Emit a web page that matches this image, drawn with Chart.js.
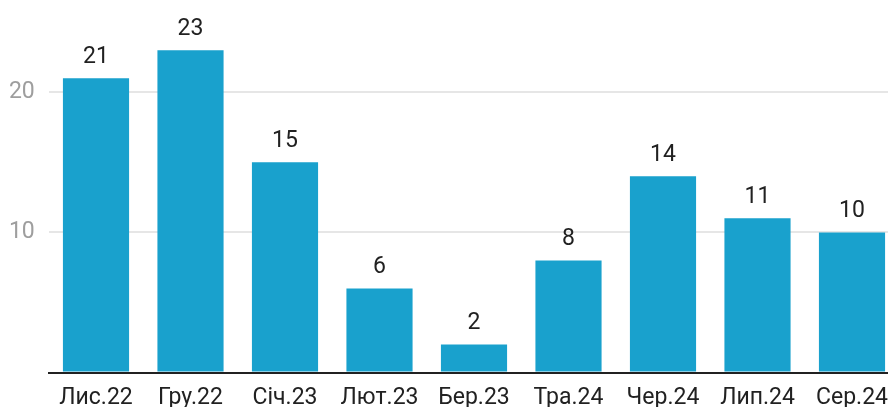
<!DOCTYPE html>
<html>
<head>
<meta charset="utf-8">
<script src="https://cdn.jsdelivr.net/npm/chart.js@4/dist/chart.umd.min.js"></script>
<style>
  html, body { margin: 0; padding: 0; background: #fff; overflow: hidden; }
  #wrap { width: 900px; height: 407px; }
</style>
</head>
<body>
<div id="wrap"><canvas id="barChart" width="900" height="407"></canvas></div>
<script>
'use strict';

// --- DATA ---
const months = ['Лис.22', 'Гру.22', 'Січ.23', 'Лют.23', 'Бер.23', 'Тра.24', 'Чер.24', 'Лип.24', 'Сер.24'];
const counts = [21, 23, 15, 6, 2, 8, 14, 11, 10];
const yTicks = [10, 20];

const FONT = 'Roboto, "Noto Sans", sans-serif';

// підписи над стовпчиками
const valueLabels = {
    id: 'valueLabels',
    afterDatasetsDraw(chart) {
        const ctx = chart.ctx;
        const meta = chart.getDatasetMeta(0);
        ctx.save();
        ctx.font = '23px ' + FONT;
        ctx.fillStyle = '#212121';
        ctx.textAlign = 'center';
        ctx.textBaseline = 'alphabetic';
        meta.data.forEach((bar, i) => {
            ctx.fillText(String(counts[i]), bar.x, bar.y - 15);
        });
        ctx.restore();
    }
};

new Chart(document.getElementById('barChart').getContext('2d'), {
    type: 'bar',
    data: {
        labels: months,
        datasets: [{
            data: counts,
            backgroundColor: '#19a1cd',
            borderWidth: 0,
            barPercentage: 0.7,
            categoryPercentage: 1.0
        }]
    },
    options: {
        responsive: false,
        animation: false,
        layout: { padding: { top: 16.5, left: 0, right: 0, bottom: 0 } },
        plugins: { legend: { display: false }, tooltip: { enabled: false } },
        scales: {
            x: {
                grid: { display: false, drawTicks: false },
                border: { display: true, color: '#212121', width: 2 },
                ticks: { color: '#212121', font: { size: 23, family: FONT }, padding: 12, maxRotation: 0, autoSkip: false },
                afterFit: (s) => { s.height = 34.5; }
            },
            y: {
                min: 0,
                max: 24.6,
                ticks: {
                    stepSize: 10,
                    includeBounds: false,
                    color: '#9e9e9e',
                    padding: 14,
                    font: { size: 23, family: FONT },
                    callback: (v) => yTicks.includes(v) ? String(v) : ''
                },
                grid: {
                    drawTicks: false,
                    lineWidth: 2,
                    color: (c) => yTicks.includes(c.tick && c.tick.value) ? '#e6e6e6' : 'rgba(0,0,0,0)'
                },
                border: { display: false },
                afterFit: (s) => { s.width = 48.75; }
            }
        }
    },
    plugins: [valueLabels]
});
</script>
</body>
</html>
